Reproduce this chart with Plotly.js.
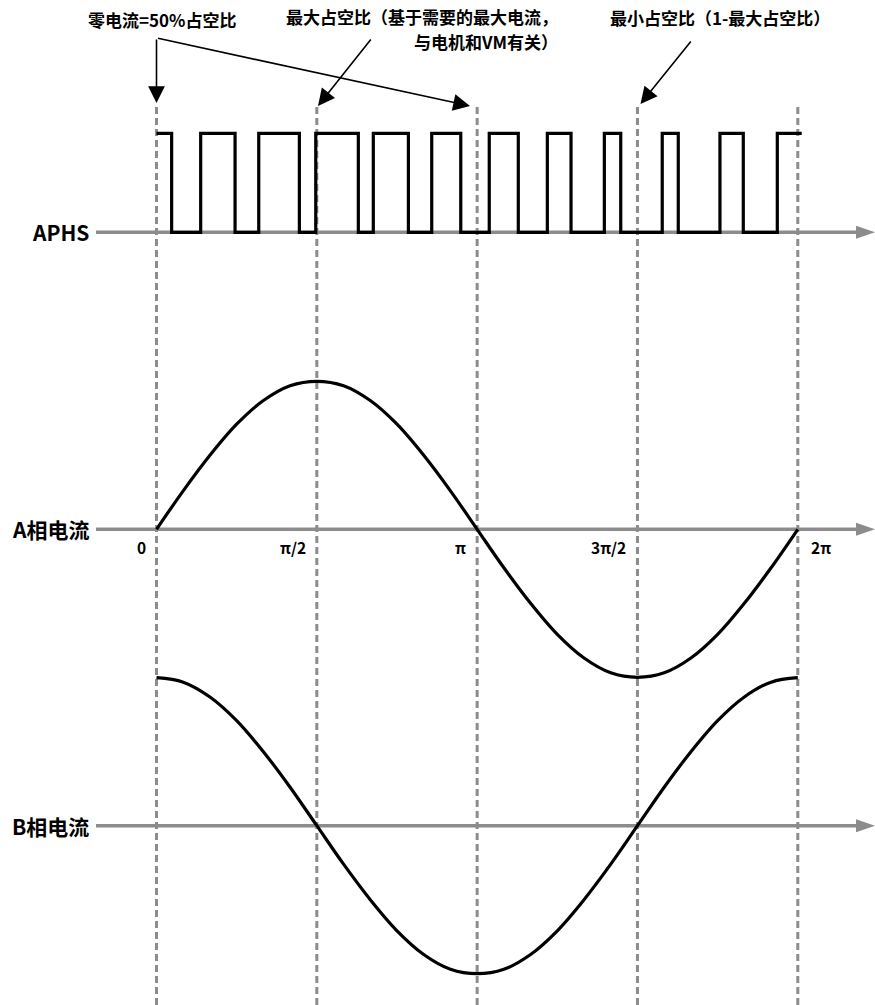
<!DOCTYPE html>
<html>
<head>
<meta charset="utf-8">
<script src="https://cdn.plot.ly/plotly-3.0.1.min.js"></script>
<style>
  html, body { margin: 0; padding: 0; background: #fff; }
  #chart { width: 875px; height: 1005px; }
</style>
</head>
<body>
<div id="chart"></div>
<script>
// Data ------------------------------------------------------------------------
// electrical angle in degrees, 0 .. 360 = 0 .. 2π
const tickVals = [0, 90, 180, 270, 360]
const tickText = ['0', 'π/2', 'π', '3π/2', '2π']

// APHS PWM: starts high at 0, toggles at every edge
const pwmEdges = [8.5, 24.8, 44.1, 57.4, 80.2, 89.4, 113.3, 121.7, 141.4, 154.5,
  170.8, 186.8, 203.1, 219.4, 232.7, 251.4, 260.6, 283.9, 292.9, 316.3, 329.4, 348.5]
const pwmEnd = 362.2

// phase currents, every 15°
const phaseDeg = [0, 15, 30, 45, 60, 75, 90, 105, 120, 135, 150, 165, 180,
  195, 210, 225, 240, 255, 270, 285, 300, 315, 330, 345, 360]
const currentA = [0, 0.26, 0.5, 0.71, 0.87, 0.97, 1, 0.97, 0.87, 0.71, 0.5, 0.26, 0,
  -0.26, -0.5, -0.71, -0.87, -0.97, -1, -0.97, -0.87, -0.71, -0.5, -0.26, 0]
const currentB = [1, 0.97, 0.87, 0.71, 0.5, 0.26, 0, -0.26, -0.5, -0.71, -0.87, -0.97, -1,
  -0.97, -0.87, -0.71, -0.5, -0.26, 0, 0.26, 0.5, 0.71, 0.87, 0.97, 1]

const rowLabels = ['APHS', 'A相电流', 'B相电流']

// Utils -----------------------------------------------------------------------
const W = 875
const H = 1005
const X0 = 156.5 // px of angle 0
const PX_PER_DEG = 641.3 / 360
const deg = px => (px - X0) / PX_PER_DEG
const py = px => 1 - px / H

const FONT = '"Noto Sans CJK SC", "Noto Sans", sans-serif'
const GREY = '#8c8c8c'
const bold = size => ({ family: FONT, size: size, color: '#000', weight: 700 })

// y axis range so that value 0 sits at `base` px and 1 is `amp` px higher
const rowRange = (base, amp) => [(base - H) / amp, base / amp]

// Traces ----------------------------------------------------------------------
const level = i => i % 2 === 0 ? 1 : 0
const pwmX = [0, ...pwmEdges, pwmEnd]
const pwmY = pwmX.map((_, i) => i === pwmX.length - 1 ? level(pwmEdges.length) : level(i))

const curve = { color: '#000', width: 3.2 }
const traces = [
  { x: pwmX, y: pwmY, yaxis: 'y', mode: 'lines', line: { ...curve, shape: 'hv' } },
  { x: phaseDeg, y: currentA, yaxis: 'y2', mode: 'lines', line: { ...curve, shape: 'spline' } },
  { x: phaseDeg, y: currentB, yaxis: 'y3', mode: 'lines', line: { ...curve, shape: 'spline' } }
]

// Shapes ----------------------------------------------------------------------
const rowRefs = ['y', 'y2', 'y3']
const shapes = []

tickVals.forEach(v => shapes.push({
  type: 'line', layer: 'below', xref: 'x', yref: 'paper',
  x0: v, x1: v, y0: 0, y1: py(106),
  line: { color: GREY, width: 3, dash: '7px,4px' }
}))

rowRefs.forEach(ref => {
  shapes.push({
    type: 'line', layer: 'below', xref: 'x', yref: ref,
    x0: deg(96), x1: deg(862), y0: 0, y1: 0,
    line: { color: GREY, width: 3.5 }
  })
  shapes.push({
    type: 'path', xref: 'x', yref: ref,
    xsizemode: 'pixel', ysizemode: 'pixel', xanchor: deg(875), yanchor: 0,
    path: 'M0,0L-19,-6.5L-19,6.5Z',
    fillcolor: GREY, line: { width: 0 }
  })
})

// Annotations -----------------------------------------------------------------
const annotations = []

rowRefs.forEach((ref, i) => annotations.push({
  text: rowLabels[i], xref: 'paper', yref: ref, x: 91 / W, y: 0,
  xanchor: 'right', yanchor: 'middle', showarrow: false, font: bold(21)
}))

tickVals.forEach((v, i) => {
  const last = i === tickVals.length - 1
  annotations.push({
    text: tickText[i], xref: 'x', yref: 'y2', x: v, y: 0,
    xanchor: last ? 'left' : 'right', xshift: last ? 11 : -9, yshift: -18,
    showarrow: false, font: bold(15.5)
  })
})

const note = (text, xPx, yPx, xanchor) => ({
  text: text, xref: 'paper', yref: 'paper', x: xPx / W, y: py(yPx),
  xanchor: xanchor, yanchor: 'middle',
  showarrow: false, font: bold(17)
})
annotations.push(
  note('零电流=50%占空比', 86, 19, 'left'),
  note('最大占空比（基于需要的最大电流，', 560, 17, 'right'),
  note('与电机和VM有关）', 560, 41, 'right'),
  note('最小占空比（1-最大占空比）', 608, 18, 'left')
)

// callout arrows: tip px -> tail px
const pointer = (tipX, tipY, tailX, tailY) => ({
  text: '', xref: 'x', yref: 'paper', x: deg(tipX), y: py(tipY),
  ax: tailX - tipX, ay: tailY - tipY, showarrow: true,
  arrowhead: 2, arrowsize: 2.1, arrowwidth: 1.6, arrowcolor: '#000', standoff: 0
})
annotations.push(
  pointer(156.5, 103, 156.5, 38),
  pointer(470, 106, 156.5, 38),
  pointer(318, 106, 372, 38),
  pointer(640.5, 104, 692, 40)
)

// Layout ----------------------------------------------------------------------
const hidden = { visible: false, fixedrange: true }
const layout = {
  width: W,
  height: H,
  margin: { l: 0, r: 0, t: 0, b: 0 },
  paper_bgcolor: '#fff',
  plot_bgcolor: '#fff',
  showlegend: false,
  xaxis: { ...hidden, range: [deg(0), deg(W)] },
  yaxis: { ...hidden, range: rowRange(232.3, 99) },
  yaxis2: { ...hidden, overlaying: 'y', range: rowRange(529.3, 148) },
  yaxis3: { ...hidden, overlaying: 'y', range: rowRange(825.7, 148) },
  shapes: shapes,
  annotations: annotations
}

Plotly.newPlot('chart', traces, layout, { staticPlot: true, displayModeBar: false })
</script>
</body>
</html>
